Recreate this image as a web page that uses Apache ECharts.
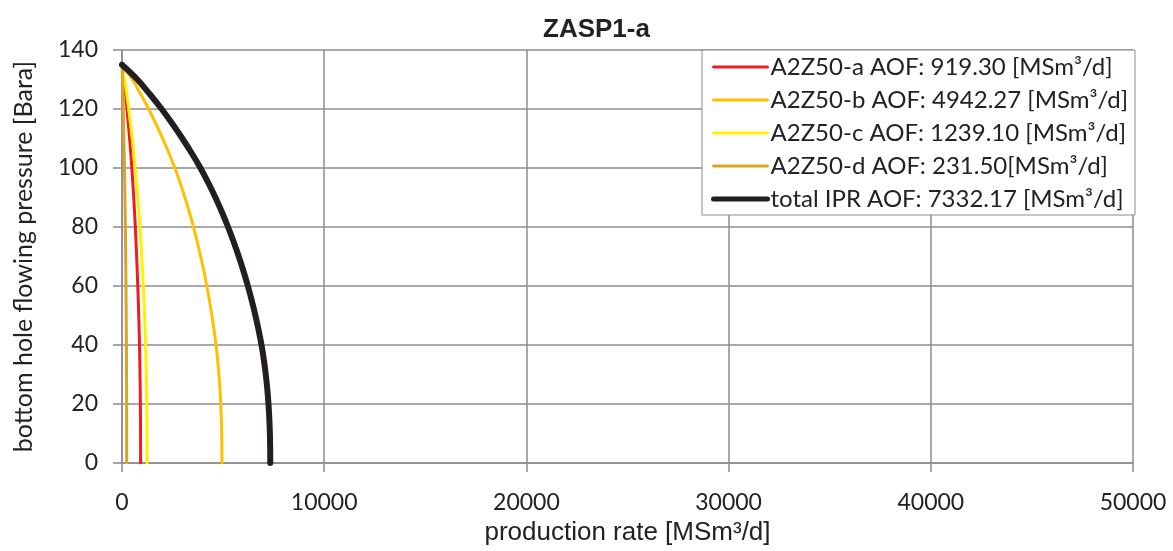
<!DOCTYPE html>
<html><head><meta charset="utf-8">
<script src="https://cdn.jsdelivr.net/npm/echarts@6/dist/echarts.min.js"></script>
<style>html,body{margin:0;padding:0;background:#fff}#c{width:1173px;height:551px}</style>
</head><body><div id="c"></div>
<script>
const pressure = [135,130,125,120,115,110,105,100,95,90,85,80,75,70,65,60,55,50,45,40,35,30,25,20,15,10,5,0];
const rateA = [0,95,173,246,312,374,433,486,535,579,620,658,692,724,754,780,805,827,847,865,880,891,901,908,914,917,919,919.3];
const rateB = [0,513,930,1321,1678,2012,2325,2615,2875,3114,3333,3535,3721,3893,4051,4196,4327,4447,4555,4651,4728,4792,4844,4883,4911,4930,4940,4942.27];
const rateC = [0,128,233,331,421,504,583,656,721,781,836,886,933,976,1016,1052,1085,1115,1142,1166,1185,1202,1214,1224,1231,1236,1238,1239.1];
const rateD = [0,24,44,62,79,94,109,123,135,146,156,166,174,182,190,197,203,208,213,218,221,224,227,229,230,231,231.4,231.5];
const rateTotal = [0,760,1380,1960,2490,2985,3450,3880,4265,4620,4945,5245,5520,5775,6010,6225,6420,6598,6758,6900,7015,7110,7186,7244,7286,7314,7328,7332.17];
const seriesNames = ['A2Z50-a AOF: 919.30 [MSm³/d]','A2Z50-b AOF: 4942.27 [MSm³/d]','A2Z50-c AOF: 1239.10 [MSm³/d]','A2Z50-d AOF: 231.50[MSm³/d]','total IPR AOF: 7332.17 [MSm³/d]'];
const xTicks = [0,10000,20000,30000,40000,50000];
const yTicks = [0,20,40,60,80,100,120,140];

const rates = [rateA, rateB, rateC, rateD, rateTotal];
const colors = ['#ED1C24','#FFC000','#FFF200','#DCA22A','#231F20'];
const widths = [3,3,3,3,6];
const legendWidths = [3,3,3,3,5];
const chart = echarts.init(document.getElementById('c'));
const arial = 'Liberation Sans, Arial, sans-serif';
const calib = 'Lato, sans-serif';
chart.setOption({
  animation:false,
  title:{text:'ZASP1-a',left:538,top:12,textStyle:{fontFamily:arial,fontWeight:'bold',fontSize:26,color:'#222'}},
  grid:{left:122,right:40,top:50,bottom:83},
  legend:{orient:'vertical',right:38,top:50,backgroundColor:'#fff',borderColor:'#8c8c8c',borderWidth:1,padding:[5,7,4,9],
    itemWidth:54,itemHeight:14,itemGap:9,
    itemStyle:{opacity:0,borderWidth:0},
    textStyle:{fontFamily:calib,fontSize:24,color:'#222',padding:[0,0,0,-2]},
    data:seriesNames.map((n,i)=>({name:n,lineStyle:{width:legendWidths[i],color:colors[i]}}))},
  xAxis:{type:'value',min:xTicks[0],max:xTicks[xTicks.length-1],interval:xTicks[1]-xTicks[0],
    name:'production rate [MSm³/d]',nameLocation:'middle',nameGap:57,nameTextStyle:{fontFamily:arial,fontSize:26,color:'#222'},
    axisLine:{show:true,lineStyle:{color:'#8c8c8c',width:1.5}},axisTick:{show:true,length:9,lineStyle:{color:'#8c8c8c',width:1.5}},
    axisLabel:{margin:28,fontFamily:calib,fontSize:23,color:'#222',formatter:v=>String(v)},
    splitLine:{show:true,lineStyle:{color:'#8c8c8c',width:1.5}}},
  yAxis:{type:'value',min:yTicks[0],max:yTicks[yTicks.length-1],interval:yTicks[1]-yTicks[0],
    name:'bottom hole flowing pressure [Bara]',nameLocation:'middle',nameGap:86,nameRotate:90,nameTextStyle:{fontFamily:calib,fontSize:25,color:'#222'},
    axisLine:{show:true,lineStyle:{color:'#8c8c8c',width:1.5}},axisTick:{show:true,length:9,lineStyle:{color:'#8c8c8c',width:1.5}},
    axisLabel:{margin:24,fontFamily:calib,fontSize:23,color:'#222'},
    splitLine:{show:true,lineStyle:{color:'#8c8c8c',width:1.5}}},
  series: rates.map((r,i)=>({
    name:seriesNames[i],type:'line',smooth:0.4,symbol:'none',
    data:r.map((q,j)=>[q,pressure[j]]),
    lineStyle:{color:colors[i],width:widths[i],cap:'round'},itemStyle:{color:colors[i]},
    z: i===4?5:3
  }))
});
</script></body></html>
